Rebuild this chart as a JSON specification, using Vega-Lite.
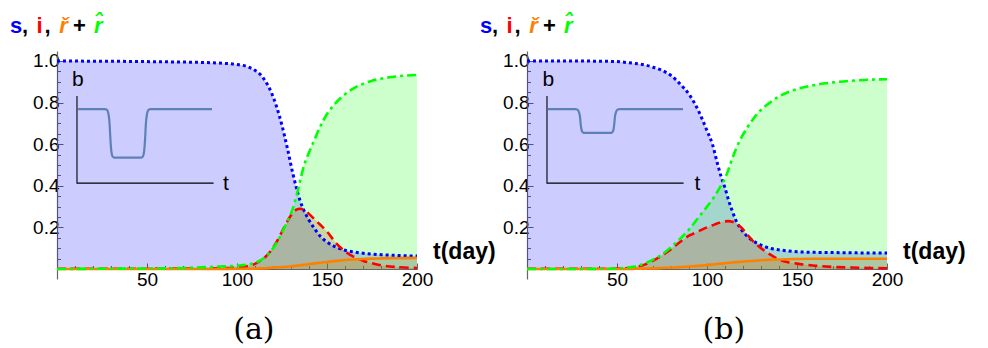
{
  "$schema": "https://vega.github.io/schema/vega-lite/v6.json",
  "padding": {"left": 10, "top": 14, "right": 5, "bottom": 2},
  "config": {
    "view": {"stroke": null},
    "axis": {"grid": false, "domainColor": "#666", "tickColor": "#666", "domainWidth": 1.2, "tickWidth": 1, "labelFont": "Liberation Sans", "labelFontSize": 19, "labelColor": "#000", "title": null, "labelFlush": false, "labelOverlap": false}
  },
  "datasets": {
    "a": [
      {"t": 0, "s": 1.000, "i": 0.001, "rc": 0.000, "rh": 0.000},
      {"t": 20, "s": 0.999, "i": 0.001, "rc": 0.000, "rh": 0.001},
      {"t": 40, "s": 0.998, "i": 0.001, "rc": 0.000, "rh": 0.002},
      {"t": 60, "s": 0.996, "i": 0.002, "rc": 0.000, "rh": 0.003},
      {"t": 70, "s": 0.995, "i": 0.002, "rc": 0.000, "rh": 0.005},
      {"t": 80, "s": 0.993, "i": 0.003, "rc": 0.000, "rh": 0.008},
      {"t": 90, "s": 0.990, "i": 0.004, "rc": 0.000, "rh": 0.012},
      {"t": 100, "s": 0.983, "i": 0.007, "rc": 0.001, "rh": 0.016},
      {"t": 105, "s": 0.975, "i": 0.012, "rc": 0.001, "rh": 0.020},
      {"t": 110, "s": 0.955, "i": 0.025, "rc": 0.002, "rh": 0.030},
      {"t": 113, "s": 0.935, "i": 0.040, "rc": 0.003, "rh": 0.042},
      {"t": 116, "s": 0.900, "i": 0.060, "rc": 0.004, "rh": 0.060},
      {"t": 119, "s": 0.850, "i": 0.090, "rc": 0.006, "rh": 0.088},
      {"t": 122, "s": 0.780, "i": 0.130, "rc": 0.008, "rh": 0.125},
      {"t": 125, "s": 0.690, "i": 0.180, "rc": 0.009, "rh": 0.175},
      {"t": 128, "s": 0.580, "i": 0.230, "rc": 0.011, "rh": 0.230},
      {"t": 131, "s": 0.460, "i": 0.270, "rc": 0.014, "rh": 0.290},
      {"t": 133, "s": 0.390, "i": 0.285, "rc": 0.016, "rh": 0.350},
      {"t": 135, "s": 0.330, "i": 0.290, "rc": 0.018, "rh": 0.420},
      {"t": 137, "s": 0.285, "i": 0.285, "rc": 0.020, "rh": 0.490},
      {"t": 140, "s": 0.235, "i": 0.265, "rc": 0.024, "rh": 0.560},
      {"t": 143, "s": 0.195, "i": 0.240, "rc": 0.027, "rh": 0.620},
      {"t": 146, "s": 0.160, "i": 0.215, "rc": 0.030, "rh": 0.680},
      {"t": 150, "s": 0.130, "i": 0.180, "rc": 0.034, "rh": 0.745},
      {"t": 155, "s": 0.105, "i": 0.125, "rc": 0.039, "rh": 0.800},
      {"t": 160, "s": 0.090, "i": 0.085, "rc": 0.043, "rh": 0.840},
      {"t": 165, "s": 0.082, "i": 0.058, "rc": 0.046, "rh": 0.870},
      {"t": 170, "s": 0.076, "i": 0.040, "rc": 0.048, "rh": 0.890},
      {"t": 175, "s": 0.072, "i": 0.028, "rc": 0.050, "rh": 0.905},
      {"t": 180, "s": 0.069, "i": 0.018, "rc": 0.051, "rh": 0.915},
      {"t": 190, "s": 0.065, "i": 0.009, "rc": 0.052, "rh": 0.927},
      {"t": 200, "s": 0.062, "i": 0.005, "rc": 0.053, "rh": 0.933}
    ],
    "b": [
      {"t": 0, "s": 1.000, "i": 0.001, "rc": 0.000, "rh": 0.000},
      {"t": 20, "s": 1.000, "i": 0.001, "rc": 0.000, "rh": 0.000},
      {"t": 40, "s": 0.999, "i": 0.001, "rc": 0.000, "rh": 0.001},
      {"t": 50, "s": 0.997, "i": 0.002, "rc": 0.000, "rh": 0.003},
      {"t": 55, "s": 0.993, "i": 0.004, "rc": 0.000, "rh": 0.006},
      {"t": 60, "s": 0.988, "i": 0.008, "rc": 0.001, "rh": 0.012},
      {"t": 65, "s": 0.982, "i": 0.020, "rc": 0.002, "rh": 0.025},
      {"t": 70, "s": 0.970, "i": 0.040, "rc": 0.003, "rh": 0.045},
      {"t": 75, "s": 0.955, "i": 0.065, "rc": 0.005, "rh": 0.070},
      {"t": 80, "s": 0.930, "i": 0.095, "rc": 0.007, "rh": 0.105},
      {"t": 85, "s": 0.890, "i": 0.130, "rc": 0.009, "rh": 0.145},
      {"t": 90, "s": 0.840, "i": 0.160, "rc": 0.012, "rh": 0.190},
      {"t": 95, "s": 0.765, "i": 0.180, "rc": 0.015, "rh": 0.245},
      {"t": 100, "s": 0.665, "i": 0.200, "rc": 0.019, "rh": 0.300},
      {"t": 103, "s": 0.600, "i": 0.210, "rc": 0.022, "rh": 0.335},
      {"t": 106, "s": 0.500, "i": 0.220, "rc": 0.025, "rh": 0.375},
      {"t": 108, "s": 0.440, "i": 0.226, "rc": 0.026, "rh": 0.405},
      {"t": 110, "s": 0.390, "i": 0.229, "rc": 0.028, "rh": 0.435},
      {"t": 112, "s": 0.330, "i": 0.230, "rc": 0.030, "rh": 0.480},
      {"t": 114, "s": 0.280, "i": 0.227, "rc": 0.031, "rh": 0.530},
      {"t": 116, "s": 0.235, "i": 0.220, "rc": 0.033, "rh": 0.575},
      {"t": 119, "s": 0.190, "i": 0.200, "rc": 0.035, "rh": 0.630},
      {"t": 122, "s": 0.160, "i": 0.170, "rc": 0.037, "rh": 0.675},
      {"t": 126, "s": 0.133, "i": 0.130, "rc": 0.040, "rh": 0.725},
      {"t": 130, "s": 0.115, "i": 0.100, "rc": 0.042, "rh": 0.765},
      {"t": 135, "s": 0.100, "i": 0.070, "rc": 0.045, "rh": 0.800},
      {"t": 140, "s": 0.092, "i": 0.046, "rc": 0.046, "rh": 0.830},
      {"t": 145, "s": 0.087, "i": 0.033, "rc": 0.047, "rh": 0.850},
      {"t": 150, "s": 0.083, "i": 0.026, "rc": 0.048, "rh": 0.865},
      {"t": 160, "s": 0.080, "i": 0.016, "rc": 0.049, "rh": 0.885},
      {"t": 170, "s": 0.079, "i": 0.010, "rc": 0.049, "rh": 0.897},
      {"t": 180, "s": 0.078, "i": 0.007, "rc": 0.049, "rh": 0.905},
      {"t": 190, "s": 0.077, "i": 0.005, "rc": 0.049, "rh": 0.910},
      {"t": 200, "s": 0.077, "i": 0.004, "rc": 0.049, "rh": 0.912}
    ],
    "insetA": [
      {"x": 11.7, "y": 0.769}, {"x": 26.5, "y": 0.769}, {"x": 27.8, "y": 0.765}, {"x": 28.6, "y": 0.745},
      {"x": 29.2, "y": 0.70}, {"x": 29.7, "y": 0.62}, {"x": 30.2, "y": 0.565}, {"x": 30.9, "y": 0.54},
      {"x": 31.8, "y": 0.535}, {"x": 46.8, "y": 0.535}, {"x": 47.7, "y": 0.54}, {"x": 48.4, "y": 0.565},
      {"x": 48.9, "y": 0.62}, {"x": 49.4, "y": 0.70}, {"x": 50.0, "y": 0.745}, {"x": 50.8, "y": 0.765},
      {"x": 52.0, "y": 0.769}, {"x": 86.1, "y": 0.769}
    ],
    "insetB": [
      {"x": 11.7, "y": 0.769}, {"x": 26.8, "y": 0.769}, {"x": 28.0, "y": 0.766}, {"x": 28.8, "y": 0.755},
      {"x": 29.4, "y": 0.735}, {"x": 29.9, "y": 0.69}, {"x": 30.4, "y": 0.665}, {"x": 31.1, "y": 0.656},
      {"x": 32.0, "y": 0.654}, {"x": 46.3, "y": 0.654}, {"x": 47.2, "y": 0.656}, {"x": 47.9, "y": 0.665},
      {"x": 48.4, "y": 0.69}, {"x": 48.9, "y": 0.735}, {"x": 49.5, "y": 0.755}, {"x": 50.3, "y": 0.766},
      {"x": 51.5, "y": 0.769}, {"x": 86.7, "y": 0.769}
    ],
    "insetAxes": [
      {"k": 0, "x": 11.1, "y": 0.832}, {"k": 1, "x": 11.1, "y": 0.413}, {"k": 2, "x": 87.0, "y": 0.413}
    ]
  },
  "spacing": 110,
  "bounds": "flush",
  "hconcat": [
    {
      "width": 360, "height": 228,
      "resolve": {"axis": {"x": "independent", "y": "independent"}},
      "layer": [
        {
          "data": {"name": "a"},
          "mark": {"type": "area", "fill": "#0000FF", "fillOpacity": 0.2, "interpolate": "monotone"},
          "encoding": {
            "x": {"field": "t", "type": "quantitative", "scale": {"domain": [0, 200], "nice": false, "zero": false}, "axis": {"orient": "bottom", "offset": -10, "values": [10,20,30,40,60,70,80,90,110,120,130,140,160,170,180,190], "labels": false, "domain": false, "tickSize": -3.5}},
            "y": {"field": "s", "type": "quantitative", "scale": {"domain": [-0.048, 1.048], "nice": false, "zero": false}, "axis": {"orient": "left", "values": [0.05,0.1,0.15,0.25,0.3,0.35,0.45,0.5,0.55,0.65,0.7,0.75,0.85,0.9,0.95,1.05], "labels": false, "domain": false, "tickSize": -3.5}},
            "y2": {"datum": 0}
          }
        },
        {
          "layer": [
            {
              "data": {"name": "a"},
              "mark": {"type": "area", "fill": "#FF0000", "fillOpacity": 0.2, "interpolate": "monotone"},
              "encoding": {
                "x": {"field": "t", "type": "quantitative", "scale": {"domain": [0, 200], "nice": false, "zero": false}, "axis": {"orient": "bottom", "offset": -10, "values": [50,100,150,200], "tickSize": -6, "labelPadding": 7, "title": null}},
                "y": {"field": "i", "type": "quantitative", "scale": {"domain": [-0.048, 1.048], "nice": false, "zero": false}, "axis": {"orient": "left", "values": [0.2,0.4,0.6,0.8,1.0], "format": ".1f", "tickSize": -6, "labelPadding": 4, "title": null}},
                "y2": {"datum": 0}
              }
            },
            {
              "data": {"name": "a"},
              "mark": {"type": "area", "fill": "#FF8000", "fillOpacity": 0.2, "interpolate": "monotone"},
              "encoding": {"x": {"field": "t", "type": "quantitative"}, "y": {"field": "rc", "type": "quantitative"}, "y2": {"datum": 0}}
            },
            {
              "data": {"name": "a"},
              "mark": {"type": "area", "fill": "#00FF00", "fillOpacity": 0.2, "interpolate": "monotone"},
              "encoding": {"x": {"field": "t", "type": "quantitative"}, "y": {"field": "rh", "type": "quantitative"}, "y2": {"datum": 0}}
            },
            {
              "data": {"name": "a"},
              "mark": {"type": "line", "stroke": "#0000FF", "strokeWidth": 3, "strokeDash": [3, 3], "interpolate": "monotone"},
              "encoding": {"x": {"field": "t", "type": "quantitative"}, "y": {"field": "s", "type": "quantitative"}}
            },
            {
              "data": {"name": "a"},
              "mark": {"type": "line", "stroke": "#FF0000", "strokeWidth": 2.6, "strokeDash": [9, 5], "interpolate": "monotone"},
              "encoding": {"x": {"field": "t", "type": "quantitative"}, "y": {"field": "i", "type": "quantitative"}}
            },
            {
              "data": {"name": "a"},
              "mark": {"type": "line", "stroke": "#FF8000", "strokeWidth": 2.6, "interpolate": "monotone"},
              "encoding": {"x": {"field": "t", "type": "quantitative"}, "y": {"field": "rc", "type": "quantitative"}}
            },
            {
              "data": {"name": "a"},
              "mark": {"type": "line", "stroke": "#00FF00", "strokeWidth": 2.6, "strokeDash": [9, 4, 3, 4], "interpolate": "monotone"},
              "encoding": {"x": {"field": "t", "type": "quantitative"}, "y": {"field": "rh", "type": "quantitative"}}
            },
            {
              "data": {"name": "insetAxes"},
              "mark": {"type": "line", "stroke": "#000000", "strokeWidth": 1.1},
              "encoding": {"x": {"field": "x", "type": "quantitative"}, "y": {"field": "y", "type": "quantitative"}, "order": {"field": "k"}}
            },
            {
              "data": {"name": "insetA"},
              "mark": {"type": "line", "stroke": "#5E81B5", "strokeWidth": 2.2, "interpolate": "monotone"},
              "encoding": {"x": {"field": "x", "type": "quantitative"}, "y": {"field": "y", "type": "quantitative"}}
            },
            {"data": {"values": [{}]}, "mark": {"type": "text", "text": "b", "font": "Liberation Sans", "fontSize": 21, "align": "left", "baseline": "alphabetic", "color": "#000"}, "encoding": {"x": {"datum": 8.3, "scale": {"domain": [0, 200], "nice": false, "zero": false}}, "y": {"datum": 0.88, "scale": {"domain": [-0.048, 1.048], "nice": false, "zero": false}}}},
            {"data": {"values": [{}]}, "mark": {"type": "text", "text": "t", "font": "Liberation Sans", "fontSize": 21, "align": "left", "baseline": "alphabetic", "color": "#000"}, "encoding": {"x": {"datum": 92.2, "scale": {"domain": [0, 200], "nice": false, "zero": false}}, "y": {"datum": 0.38, "scale": {"domain": [-0.048, 1.048], "nice": false, "zero": false}}}},
            {"data": {"values": [{}]}, "mark": {"type": "text", "text": "t(day)", "font": "Liberation Sans", "fontWeight": "bold", "fontSize": 23, "align": "left", "baseline": "alphabetic", "color": "#000"}, "encoding": {"x": {"datum": 208.9, "scale": {"domain": [0, 200], "nice": false, "zero": false}}, "y": {"datum": 0.05, "scale": {"domain": [-0.048, 1.048], "nice": false, "zero": false}}}},
            {"data": {"values": [{}]}, "mark": {"type": "text", "text": "(a)", "font": "DejaVu Serif", "fontSize": 30, "align": "center", "baseline": "middle", "color": "#000"}, "encoding": {"x": {"datum": 109.4, "scale": {"domain": [0, 200], "nice": false, "zero": false}}, "y": {"datum": -0.293, "scale": {"domain": [-0.048, 1.048], "nice": false, "zero": false}}}},
            {"data": {"values": [{}]}, "mark": {"type": "text", "text": "s", "font": "Liberation Sans", "fontWeight": "bold", "fontSize": 22, "align": "left", "baseline": "alphabetic", "color": "#0000FF"}, "encoding": {"x": {"datum": -26.1, "scale": {"domain": [0, 200], "nice": false, "zero": false}}, "y": {"datum": 1.135, "scale": {"domain": [-0.048, 1.048], "nice": false, "zero": false}}}},
            {"data": {"values": [{}]}, "mark": {"type": "text", "text": ",", "font": "Liberation Sans", "fontWeight": "bold", "fontSize": 22, "align": "left", "baseline": "alphabetic", "color": "#000"}, "encoding": {"x": {"datum": -19.4, "scale": {"domain": [0, 200], "nice": false, "zero": false}}, "y": {"datum": 1.135, "scale": {"domain": [-0.048, 1.048], "nice": false, "zero": false}}}},
            {"data": {"values": [{}]}, "mark": {"type": "text", "text": "i", "font": "Liberation Sans", "fontWeight": "bold", "fontSize": 22, "align": "left", "baseline": "alphabetic", "color": "#FF0000"}, "encoding": {"x": {"datum": -11.4, "scale": {"domain": [0, 200], "nice": false, "zero": false}}, "y": {"datum": 1.135, "scale": {"domain": [-0.048, 1.048], "nice": false, "zero": false}}}},
            {"data": {"values": [{}]}, "mark": {"type": "text", "text": ",", "font": "Liberation Sans", "fontWeight": "bold", "fontSize": 22, "align": "left", "baseline": "alphabetic", "color": "#000"}, "encoding": {"x": {"datum": -7.0, "scale": {"domain": [0, 200], "nice": false, "zero": false}}, "y": {"datum": 1.135, "scale": {"domain": [-0.048, 1.048], "nice": false, "zero": false}}}},
            {"data": {"values": [{}]}, "mark": {"type": "text", "text": "ř", "font": "Liberation Sans", "fontWeight": "bold", "fontStyle": "italic", "fontSize": 22, "align": "left", "baseline": "alphabetic", "color": "#FF8000"}, "encoding": {"x": {"datum": 1.2, "scale": {"domain": [0, 200], "nice": false, "zero": false}}, "y": {"datum": 1.135, "scale": {"domain": [-0.048, 1.048], "nice": false, "zero": false}}}},
            {"data": {"values": [{}]}, "mark": {"type": "text", "text": "+", "font": "Liberation Sans", "fontWeight": "bold", "fontSize": 22, "align": "left", "baseline": "alphabetic", "color": "#000"}, "encoding": {"x": {"datum": 8.9, "scale": {"domain": [0, 200], "nice": false, "zero": false}}, "y": {"datum": 1.135, "scale": {"domain": [-0.048, 1.048], "nice": false, "zero": false}}}},
            {"data": {"values": [{}]}, "mark": {"type": "text", "text": "r̂", "font": "Liberation Sans", "fontWeight": "bold", "fontStyle": "italic", "fontSize": 22, "align": "left", "baseline": "alphabetic", "color": "#00FF00"}, "encoding": {"x": {"datum": 20.6, "scale": {"domain": [0, 200], "nice": false, "zero": false}}, "y": {"datum": 1.135, "scale": {"domain": [-0.048, 1.048], "nice": false, "zero": false}}}}
          ]
        }
      ]
    },
    {
      "width": 360, "height": 228,
      "resolve": {"axis": {"x": "independent", "y": "independent"}},
      "layer": [
        {
          "data": {"name": "b"},
          "mark": {"type": "area", "fill": "#0000FF", "fillOpacity": 0.2, "interpolate": "monotone"},
          "encoding": {
            "x": {"field": "t", "type": "quantitative", "scale": {"domain": [0, 200], "nice": false, "zero": false}, "axis": {"orient": "bottom", "offset": -10, "values": [10,20,30,40,60,70,80,90,110,120,130,140,160,170,180,190], "labels": false, "domain": false, "tickSize": -3.5}},
            "y": {"field": "s", "type": "quantitative", "scale": {"domain": [-0.048, 1.048], "nice": false, "zero": false}, "axis": {"orient": "left", "values": [0.05,0.1,0.15,0.25,0.3,0.35,0.45,0.5,0.55,0.65,0.7,0.75,0.85,0.9,0.95,1.05], "labels": false, "domain": false, "tickSize": -3.5}},
            "y2": {"datum": 0}
          }
        },
        {
          "layer": [
            {
              "data": {"name": "b"},
              "mark": {"type": "area", "fill": "#FF0000", "fillOpacity": 0.2, "interpolate": "monotone"},
              "encoding": {
                "x": {"field": "t", "type": "quantitative", "scale": {"domain": [0, 200], "nice": false, "zero": false}, "axis": {"orient": "bottom", "offset": -10, "values": [50,100,150,200], "tickSize": -6, "labelPadding": 7, "title": null}},
                "y": {"field": "i", "type": "quantitative", "scale": {"domain": [-0.048, 1.048], "nice": false, "zero": false}, "axis": {"orient": "left", "values": [0.2,0.4,0.6,0.8,1.0], "format": ".1f", "tickSize": -6, "labelPadding": 4, "title": null}},
                "y2": {"datum": 0}
              }
            },
            {
              "data": {"name": "b"},
              "mark": {"type": "area", "fill": "#FF8000", "fillOpacity": 0.2, "interpolate": "monotone"},
              "encoding": {"x": {"field": "t", "type": "quantitative"}, "y": {"field": "rc", "type": "quantitative"}, "y2": {"datum": 0}}
            },
            {
              "data": {"name": "b"},
              "mark": {"type": "area", "fill": "#00FF00", "fillOpacity": 0.2, "interpolate": "monotone"},
              "encoding": {"x": {"field": "t", "type": "quantitative"}, "y": {"field": "rh", "type": "quantitative"}, "y2": {"datum": 0}}
            },
            {
              "data": {"name": "b"},
              "mark": {"type": "line", "stroke": "#0000FF", "strokeWidth": 3, "strokeDash": [3, 3], "interpolate": "monotone"},
              "encoding": {"x": {"field": "t", "type": "quantitative"}, "y": {"field": "s", "type": "quantitative"}}
            },
            {
              "data": {"name": "b"},
              "mark": {"type": "line", "stroke": "#FF0000", "strokeWidth": 2.6, "strokeDash": [9, 5], "interpolate": "monotone"},
              "encoding": {"x": {"field": "t", "type": "quantitative"}, "y": {"field": "i", "type": "quantitative"}}
            },
            {
              "data": {"name": "b"},
              "mark": {"type": "line", "stroke": "#FF8000", "strokeWidth": 2.6, "interpolate": "monotone"},
              "encoding": {"x": {"field": "t", "type": "quantitative"}, "y": {"field": "rc", "type": "quantitative"}}
            },
            {
              "data": {"name": "b"},
              "mark": {"type": "line", "stroke": "#00FF00", "strokeWidth": 2.6, "strokeDash": [9, 4, 3, 4], "interpolate": "monotone"},
              "encoding": {"x": {"field": "t", "type": "quantitative"}, "y": {"field": "rh", "type": "quantitative"}}
            },
            {
              "data": {"name": "insetAxes"},
              "mark": {"type": "line", "stroke": "#000000", "strokeWidth": 1.1},
              "encoding": {"x": {"field": "x", "type": "quantitative"}, "y": {"field": "y", "type": "quantitative"}, "order": {"field": "k"}}
            },
            {
              "data": {"name": "insetB"},
              "mark": {"type": "line", "stroke": "#5E81B5", "strokeWidth": 2.2, "interpolate": "monotone"},
              "encoding": {"x": {"field": "x", "type": "quantitative"}, "y": {"field": "y", "type": "quantitative"}}
            },
            {"data": {"values": [{}]}, "mark": {"type": "text", "text": "b", "font": "Liberation Sans", "fontSize": 21, "align": "left", "baseline": "alphabetic", "color": "#000"}, "encoding": {"x": {"datum": 8.6, "scale": {"domain": [0, 200], "nice": false, "zero": false}}, "y": {"datum": 0.88, "scale": {"domain": [-0.048, 1.048], "nice": false, "zero": false}}}},
            {"data": {"values": [{}]}, "mark": {"type": "text", "text": "t", "font": "Liberation Sans", "fontSize": 21, "align": "left", "baseline": "alphabetic", "color": "#000"}, "encoding": {"x": {"datum": 93.0, "scale": {"domain": [0, 200], "nice": false, "zero": false}}, "y": {"datum": 0.38, "scale": {"domain": [-0.048, 1.048], "nice": false, "zero": false}}}},
            {"data": {"values": [{}]}, "mark": {"type": "text", "text": "t(day)", "font": "Liberation Sans", "fontWeight": "bold", "fontSize": 23, "align": "left", "baseline": "alphabetic", "color": "#000"}, "encoding": {"x": {"datum": 208.9, "scale": {"domain": [0, 200], "nice": false, "zero": false}}, "y": {"datum": 0.05, "scale": {"domain": [-0.048, 1.048], "nice": false, "zero": false}}}},
            {"data": {"values": [{}]}, "mark": {"type": "text", "text": "(b)", "font": "DejaVu Serif", "fontSize": 30, "align": "center", "baseline": "middle", "color": "#000"}, "encoding": {"x": {"datum": 109.4, "scale": {"domain": [0, 200], "nice": false, "zero": false}}, "y": {"datum": -0.293, "scale": {"domain": [-0.048, 1.048], "nice": false, "zero": false}}}},
            {"data": {"values": [{}]}, "mark": {"type": "text", "text": "s", "font": "Liberation Sans", "fontWeight": "bold", "fontSize": 22, "align": "left", "baseline": "alphabetic", "color": "#0000FF"}, "encoding": {"x": {"datum": -26.1, "scale": {"domain": [0, 200], "nice": false, "zero": false}}, "y": {"datum": 1.135, "scale": {"domain": [-0.048, 1.048], "nice": false, "zero": false}}}},
            {"data": {"values": [{}]}, "mark": {"type": "text", "text": ",", "font": "Liberation Sans", "fontWeight": "bold", "fontSize": 22, "align": "left", "baseline": "alphabetic", "color": "#000"}, "encoding": {"x": {"datum": -19.4, "scale": {"domain": [0, 200], "nice": false, "zero": false}}, "y": {"datum": 1.135, "scale": {"domain": [-0.048, 1.048], "nice": false, "zero": false}}}},
            {"data": {"values": [{}]}, "mark": {"type": "text", "text": "i", "font": "Liberation Sans", "fontWeight": "bold", "fontSize": 22, "align": "left", "baseline": "alphabetic", "color": "#FF0000"}, "encoding": {"x": {"datum": -11.4, "scale": {"domain": [0, 200], "nice": false, "zero": false}}, "y": {"datum": 1.135, "scale": {"domain": [-0.048, 1.048], "nice": false, "zero": false}}}},
            {"data": {"values": [{}]}, "mark": {"type": "text", "text": ",", "font": "Liberation Sans", "fontWeight": "bold", "fontSize": 22, "align": "left", "baseline": "alphabetic", "color": "#000"}, "encoding": {"x": {"datum": -7.0, "scale": {"domain": [0, 200], "nice": false, "zero": false}}, "y": {"datum": 1.135, "scale": {"domain": [-0.048, 1.048], "nice": false, "zero": false}}}},
            {"data": {"values": [{}]}, "mark": {"type": "text", "text": "ř", "font": "Liberation Sans", "fontWeight": "bold", "fontStyle": "italic", "fontSize": 22, "align": "left", "baseline": "alphabetic", "color": "#FF8000"}, "encoding": {"x": {"datum": 1.2, "scale": {"domain": [0, 200], "nice": false, "zero": false}}, "y": {"datum": 1.135, "scale": {"domain": [-0.048, 1.048], "nice": false, "zero": false}}}},
            {"data": {"values": [{}]}, "mark": {"type": "text", "text": "+", "font": "Liberation Sans", "fontWeight": "bold", "fontSize": 22, "align": "left", "baseline": "alphabetic", "color": "#000"}, "encoding": {"x": {"datum": 8.9, "scale": {"domain": [0, 200], "nice": false, "zero": false}}, "y": {"datum": 1.135, "scale": {"domain": [-0.048, 1.048], "nice": false, "zero": false}}}},
            {"data": {"values": [{}]}, "mark": {"type": "text", "text": "r̂", "font": "Liberation Sans", "fontWeight": "bold", "fontStyle": "italic", "fontSize": 22, "align": "left", "baseline": "alphabetic", "color": "#00FF00"}, "encoding": {"x": {"datum": 20.6, "scale": {"domain": [0, 200], "nice": false, "zero": false}}, "y": {"datum": 1.135, "scale": {"domain": [-0.048, 1.048], "nice": false, "zero": false}}}}
          ]
        }
      ]
    }
  ]
}
